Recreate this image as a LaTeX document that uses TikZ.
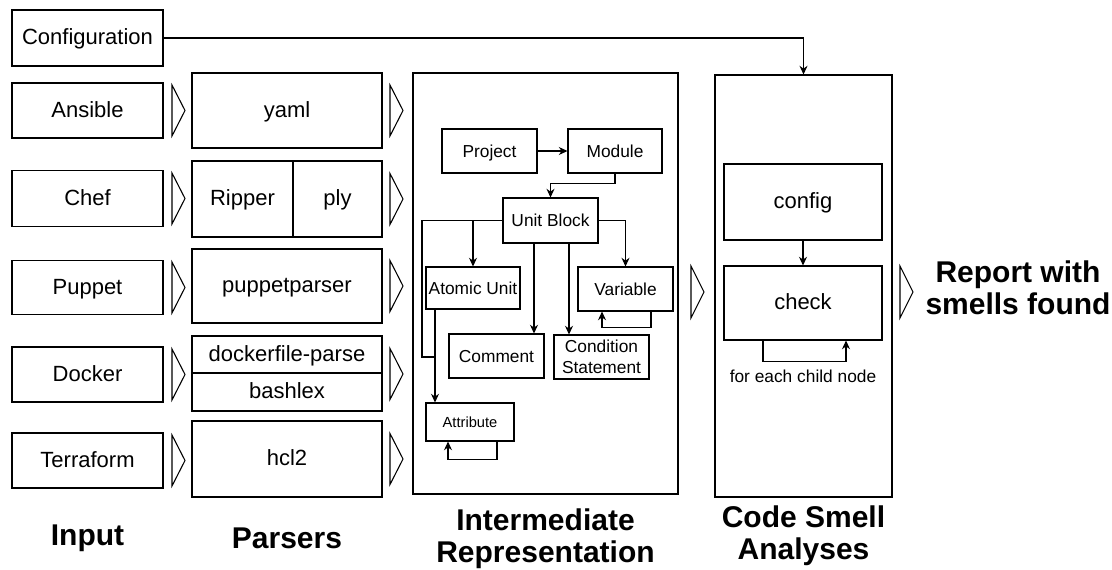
\documentclass[tikz,border=0pt]{standalone}
\usepackage{fontspec}
\setmainfont{Liberation Sans}
\usetikzlibrary{arrows.meta,calc}
\begin{document}
\begin{tikzpicture}[x=0.75pt,y=-0.75pt,
  wh/.style 2 args={minimum width=#1*0.75pt, minimum height=#2*0.75pt},
  box/.style={draw, line width=0.8pt, inner sep=0pt, text height=11.8pt, text depth=1.5pt, font=\fontsize{16.5}{19.5}\selectfont},
  ibox/.style={draw, line width=0.8pt, inner sep=0pt, text height=10.6pt, text depth=1.6pt, font=\fontsize{13}{15.75}\selectfont},
  frame/.style={draw, line width=0.8pt, inner sep=0pt},
  arr/.style={line width=0.8pt, -{Stealth[length=6.5pt,width=6pt]}},
  ln/.style={line width=0.8pt},
  chev/.style={line width=0.8pt, line join=miter},
  title/.style={font=\fontsize{22.5}{24}\selectfont\bfseries, align=center, inner sep=0pt}]
\useasboundingbox (0,0) rectangle (1112,569);

% Input column
\node[box, wh={151}{56}] (conf) at (87.5,38) {Configuration};
\node[box, wh={151}{55}] (ans) at (87.5,110.5) {Ansible};
\node[box, wh={151}{56}] (chef) at (87.5,198.5) {Chef};
\node[box, wh={151}{54}] (pup) at (87.5,287.5) {Puppet};
\node[box, wh={151}{55}] (dock) at (87.5,374.5) {Docker};
\node[box, wh={151}{55}] (terra) at (87.5,460.5) {Terraform};

% Parsers column
\node[box, wh={190}{75}] (yaml) at (287,110.5) {yaml};
\node[box, wh={101}{76}] (ripper) at (242.5,199) {Ripper};
\node[box, wh={89}{76}] (ply) at (337.5,199) {ply};
\node[box, wh={190}{74}] (pparser) at (287,286) {puppetparser};
\node[box, wh={190}{37}] (dfp) at (287,354.5) {dockerfile-parse};
\node[box, wh={190}{38}] (bashlex) at (287,392) {bashlex};
\node[box, wh={190}{76}] (hcl) at (287,459) {hcl2};

% Chevrons input -> parsers
\foreach \cy in {110.5,198.5,287.5,374.5,460.5}{
  \draw[chev] (172,\cy-25.5) -- (185,\cy) -- (172,\cy+25.5) -- cycle;
}
% Chevrons parsers -> IR
\foreach \cy in {110.5,199,286,374,459}{
  \draw[chev] (390,\cy-25.5) -- (403,\cy) -- (390,\cy+25.5) -- cycle;
}
% IR -> analyses, analyses -> report
\draw[chev] (691,266) -- (704,292) -- (691,318) -- cycle;
\draw[chev] (900,266) -- (913,292) -- (900,318) -- cycle;

% Intermediate representation frame
\node[frame, wh={265}{421}] (ir) at (545.5,283.5) {};
\node[ibox, wh={95}{44}] (proj) at (489.5,151) {Project};
\node[ibox, wh={94}{44}] (mod) at (615,151) {Module};
\node[ibox, wh={95}{45}] (ub) at (550.5,220.5) {Unit Block};
\node[ibox, wh={94}{42}] (au) at (473,288) {Atomic Unit};
\node[ibox, wh={95}{44}] (var) at (625.5,289) {Variable};
\node[ibox, wh={95}{44}] (com) at (496.5,356) {Comment};
\node[ibox, wh={95}{44}, text height=, text depth=, align=center] (cond) at (601.5,357) {Condition\\Statement};
\node[ibox, wh={88}{38}, text height=9pt, text depth=1.4pt, font=\fontsize{11}{13}\selectfont] (attr) at (470,422) {Attribute};

\coordinate (lc) at (422,357);
\coordinate (jn) at (435,357);

\draw[arr] (proj) -- (mod);
\draw[arr] (mod.south) -- ++(0,10) -| (ub.north);
\draw[arr] (ub.west) -| (au.north);
\draw[ln] (ub.west) -| (lc) -- (jn);
\draw[arr] (au.south -| jn) -- (attr.north -| jn);
\draw[arr] ($(ub.south)+(-16.5,0)$) -- ($(com.north)+(37.5,0)$);
\draw[arr] ($(ub.south)+(18.5,0)$) -- ($(cond.north)+(-32.5,0)$);
\draw[arr] (ub.east) -| (var.north);
\draw[arr] ($(var.south)+(25.5,0)$) -- ++(0,16) -| ($(var.south)+(-23.5,0)$);
\draw[arr] ($(attr.south)+(27,0)$) -- ++(0,18) -| ($(attr.south)+(-22,0)$);

% Code smell analyses frame
\node[frame, wh={177}{422}] (cs) at (803.5,286) {};
\node[box, wh={158}{76}] (config) at (803,202) {config};
\node[box, wh={158}{74}] (check) at (803,303) {check};
\draw[arr] (config) -- (check);
\draw[arr] ($(check.south)+(-40,0)$) -- ++(0,21) -| ($(check.south)+(43,0)$);
\node[font=\fontsize{13}{15}\selectfont, inner sep=0pt] (each) at (803,376) {for each child node};

% Configuration -> analyses
\draw[arr] (conf.east) -| (cs.north);

% Titles
\node[title] (report) at (1018,288) {Report with\\smells found};
\node[title] (tin) at (87.5,538) {Input};
\node[title] (tpar) at (287,538) {Parsers};
\node[title] (tir) at (545.5,539) {Intermediate\\Representation};
\node[title] (tcs) at (803.5,536) {Code Smell\\Analyses};
\end{tikzpicture}
\end{document}
